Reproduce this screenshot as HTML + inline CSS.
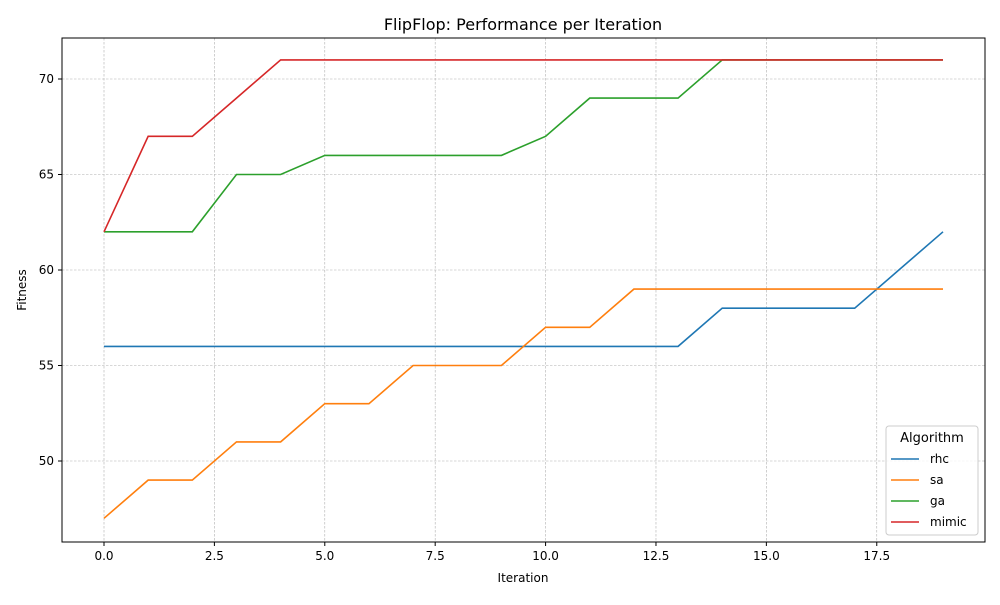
<!DOCTYPE html>
<html><head><meta charset="utf-8"><style>
body{margin:0;background:#fff;font-family:"Liberation Sans","DejaVu Sans",sans-serif;}
svg text{font-family:"DejaVu Sans","Liberation Sans",sans-serif;}
</style></head><body>
<svg id="chart" width="1000" height="600">
<rect width="1000" height="600" fill="#fff"/>
<text x="523" y="30" text-anchor="middle" font-size="16">FlipFlop: Performance per Iteration</text>
<g id="grid"></g><g id="axes"></g><g id="series"></g>
<rect x="62" y="38" width="923" height="504" fill="none" stroke="#000" stroke-width="1"/>
<text x="523" y="582" text-anchor="middle" font-size="12">Iteration</text>
<text transform="translate(26,290) rotate(-90)" text-anchor="middle" font-size="12">Fitness</text>
<g id="legend">
<rect x="886" y="426" width="92" height="109" fill="#fff" fill-opacity="0.8" stroke="#ccc" rx="3"/>
<text x="932" y="442" text-anchor="middle" font-size="13">Algorithm</text>
</g>
</svg>
<script>
const iterations=[0,1,2,3,4,5,6,7,8,9,10,11,12,13,14,15,16,17,18,19];
const rhc=[56,56,56,56,56,56,56,56,56,56,56,56,56,56,58,58,58,58,60,62];
const sa=[47,49,49,51,51,53,53,55,55,55,57,57,59,59,59,59,59,59,59,59];
const ga=[62,62,62,65,65,66,66,66,66,66,67,69,69,69,71,71,71,71,71,71];
const mimic=[62,67,67,69,71,71,71,71,71,71,71,71,71,71,71,71,71,71,71,71];
const seriesNames=["rhc","sa","ga","mimic"];
const xTicks=[0,2.5,5,7.5,10,12.5,15,17.5];
const xTickLabels=["0.0","2.5","5.0","7.5","10.0","12.5","15.0","17.5"];
const yTicks=[50,55,60,65,70];
const yTickLabels=["50","55","60","65","70"];
const colors=["#1f77b4","#ff7f0e","#2ca02c","#d62728"];
const NS="http://www.w3.org/2000/svg";
const xs=v=>104+v*(943-104)/19;
const ys=v=>461-(v-50)*(461-79)/20;
function mk(tag,attrs,parent){const e=document.createElementNS(NS,tag);for(const k in attrs)e.setAttribute(k,attrs[k]);parent.appendChild(e);return e;}
const grid=document.getElementById('grid'),axes=document.getElementById('axes'),ser=document.getElementById('series'),leg=document.getElementById('legend');
xTicks.forEach((t,i)=>{const x=xs(t);
 const g=mk('line',{x1:x,x2:x,y1:38,y2:542,stroke:'#b0b0b0','stroke-width':0.6,'stroke-dasharray':'2.5,1.5'},grid);
 
 mk('line',{x1:x,x2:x,y1:542,y2:546,stroke:'#000'},axes);
 const l=mk('text',{x:x,y:560,'text-anchor':'middle','font-size':12},axes);l.textContent=xTickLabels[i];
 });
yTicks.forEach((t,i)=>{const y=ys(t);
 const g=mk('line',{x1:62,x2:985,y1:y,y2:y,stroke:'#b0b0b0','stroke-width':0.6,'stroke-dasharray':'2.5,1.5'},grid);
 
 mk('line',{x1:58,x2:62,y1:y,y2:y,stroke:'#000'},axes);
 const l=mk('text',{x:54,y:y+4,'text-anchor':'end','font-size':12},axes);l.textContent=yTickLabels[i];
 });
[rhc,sa,ga,mimic].forEach((d,si)=>{
 const p=mk('polyline',{points:d.map((v,i)=>xs(iterations[i])+','+ys(v)).join(' '),fill:'none',stroke:colors[si],'stroke-width':1.6},ser);
 
 const y=459+si*21;
 const ll=mk('line',{x1:891,x2:919,y1:y,y2:y,stroke:colors[si],'stroke-width':1.6},leg);
 
 const lt=mk('text',{x:930,y:y+4,'font-size':12},leg);lt.textContent=seriesNames[si];
 
});
</script>
</body></html>
